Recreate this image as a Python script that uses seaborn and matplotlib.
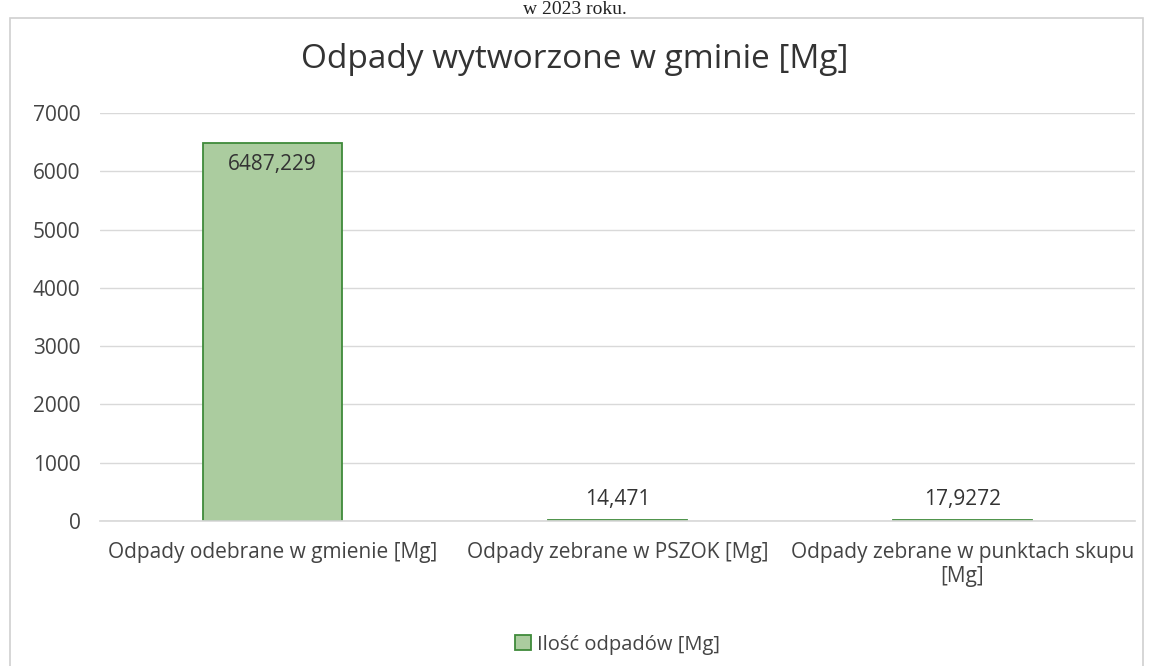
import matplotlib
matplotlib.use('Agg')
import matplotlib.pyplot as plt
from matplotlib.patches import Rectangle
import pandas as pd
import seaborn as sns

# data
categories = ['Odpady odebrane w gmienie [Mg]',
              'Odpady zebrane w PSZOK [Mg]',
              'Odpady zebrane w punktach skupu\n[Mg]']
values = [6487.229, 14.471, 17.9272]
value_labels = ['6487,229', '14,471', '17,9272']
series_name = 'Ilość odpadów [Mg]'
y_ticks = [0, 1000, 2000, 3000, 4000, 5000, 6000, 7000]

sns.set_theme(style='white')
plt.rcParams['font.family'] = ['Open Sans', 'DejaVu Sans']

df = pd.DataFrame({'kategoria': categories, 'wartosc': values, 'seria': series_name})

fig = plt.figure(figsize=(11.5, 6.66), dpi=100)
fig.patch.set_facecolor('white')

# outer chart frame and the caption above it
fig.add_artist(Rectangle((0.009, -0.01), 0.985, 0.983, transform=fig.transFigure,
                         fill=False, edgecolor='#d0d0d0', linewidth=1.2))
fig.text(0.5, 0.998, 'w 2023 roku.', ha='center', va='top', fontsize=14,
         family=['Liberation Serif', 'DejaVu Serif'], color='#222222')

ax = fig.add_axes([0.087, 0.218, 0.90, 0.612])
sns.barplot(data=df, x='kategoria', y='wartosc', hue='seria', ax=ax,
            palette=['#a8d398'], edgecolor='#3f8a3a', linewidth=1.3, width=0.405)

ax.set_ylim(0, 7000)
ax.set_yticks(y_ticks)
ax.set_xlim(-0.5, 2.5)
ax.grid(axis='y', color='#d9d9d9', linewidth=1)
ax.set_axisbelow(True)
for s in ['top', 'right', 'left']:
    ax.spines[s].set_visible(False)
ax.spines['bottom'].set_color('#d9d9d9')
ax.tick_params(axis='y', length=0, labelsize=15, colors='#444444', pad=14)
ax.tick_params(axis='x', length=0, labelsize=15, colors='#444444', pad=15)
ax.set_xlabel('')
ax.set_ylabel('')

# data labels
bars = ax.patches[:len(values)]
for bar, v, lab in zip(bars, values, value_labels):
    cx = bar.get_x() + bar.get_width() / 2
    if v > 1000:
        ax.text(cx, v - 190, lab, ha='center', va='top', fontsize=15, color='#333333')
    else:
        ax.text(cx, v + 170, lab, ha='center', va='bottom', fontsize=15, color='#333333')

fig.suptitle('Odpady wytworzone w gminie [Mg]', y=0.935, fontsize=24, color='#333333')

ax.legend(loc='upper center', bbox_to_anchor=(0.5, -0.235), frameon=False,
          fontsize=14.5, handlelength=0.8, handleheight=0.8, handletextpad=0.3,
          labelcolor='#444444')

fig.savefig('out.png', dpi=100)
